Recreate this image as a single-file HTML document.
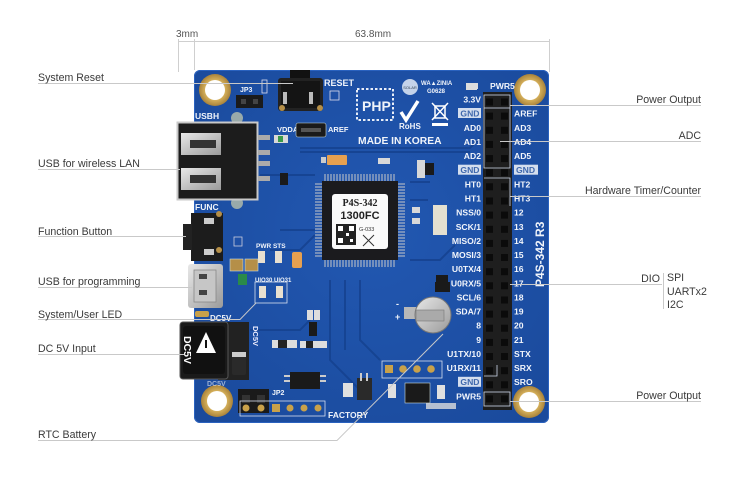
<!DOCTYPE html>
<html><head><meta charset="utf-8"><style>
html,body{margin:0;padding:0;background:#fff;}
svg{display:block;}
.lb{font-family:"Liberation Sans",Arial,sans-serif;font-size:10.6px;fill:#3a3a3a;}
.pn{font-family:"Liberation Sans",Arial,sans-serif;font-size:8.6px;font-weight:bold;fill:#f2f5fb;}
.sk{font-family:"Liberation Sans",Arial,sans-serif;font-weight:bold;fill:#f0f4fa;}
</style></head><body>
<svg width="750" height="496" viewBox="0 0 750 496" xmlns="http://www.w3.org/2000/svg">
<defs>
<radialGradient id="bg" cx="50%" cy="45%" r="70%"><stop offset="0" stop-color="#2258b2"/><stop offset="1" stop-color="#1a4a9c"/></radialGradient>
<radialGradient id="gold" cx="50%" cy="50%" r="50%"><stop offset="0.6" stop-color="#d9b45e"/><stop offset="1" stop-color="#a8823a"/></radialGradient>
<linearGradient id="sil" x1="0" y1="0" x2="1" y2="1"><stop offset="0" stop-color="#e8e8e8"/><stop offset="1" stop-color="#9a9a9a"/></linearGradient>
</defs>

<!-- dimension lines -->
<g stroke="#cfcfcf" stroke-width="1" fill="none">
<line x1="178" y1="41.5" x2="549" y2="41.5"/>
<line x1="178.5" y1="39" x2="178.5" y2="72"/>
<line x1="194.5" y1="39" x2="194.5" y2="70"/>
<line x1="549.5" y1="39" x2="549.5" y2="72"/>
</g>
<text class="lb" x="176" y="37" style="font-size:10px;fill:#555">3mm</text>
<text class="lb" x="355" y="37" style="font-size:10px;fill:#555">63.8mm</text>

<!-- board -->
<rect x="194" y="70" width="355" height="353" rx="6" fill="url(#bg)"/>
<rect x="194.5" y="70.5" width="354" height="352" rx="6" fill="none" stroke="#2a62bf" stroke-width="1"/>
<!-- traces -->
<g stroke="#15418e" stroke-width="2" fill="none" opacity="0.8">
<path d="M300 148 L470 148 L480 138"/>
<path d="M300 152 L470 152"/>
<path d="M260 175 L315 175"/>
<path d="M270 250 L300 250 L315 235"/>
<path d="M280 230 L315 230"/>
<path d="M330 280 L330 360 L360 390"/>
<path d="M345 280 L345 350"/>
<path d="M360 280 L360 340 L380 360"/>
<path d="M410 260 L440 260 L455 245"/>
<path d="M250 330 L300 330 L310 320"/>
<path d="M410 182 L430 182"/>
<path d="M410 200 L428 200"/>
</g>

<!-- mount holes -->
<g>
<circle cx="215" cy="90" r="16" fill="url(#gold)"/><circle cx="215" cy="90" r="10" fill="#fff"/>
<circle cx="530" cy="90" r="16" fill="url(#gold)"/><circle cx="530" cy="90" r="10" fill="#fff"/>
<circle cx="217" cy="401" r="16" fill="url(#gold)"/><circle cx="217" cy="401" r="10" fill="#fff"/>
<circle cx="529" cy="402" r="16" fill="url(#gold)"/><circle cx="529" cy="402" r="10" fill="#fff"/>
</g>

<!-- JP3 -->
<text class="sk" x="240" y="92" font-size="7">JP3</text>
<rect x="262" y="80" width="5" height="13" fill="none" stroke="#dde" stroke-width="0.8"/>
<rect x="236" y="95" width="27" height="13" fill="#1b1b1b"/>
<rect x="241" y="99" width="5" height="5" fill="#444"/><rect x="253" y="99" width="5" height="5" fill="#444"/>

<!-- reset button -->
<rect x="290" y="70" width="20" height="9" fill="#111"/>
<rect x="278" y="78" width="45" height="33" rx="3" fill="#222"/>
<rect x="281" y="81" width="39" height="27" fill="#141414"/>
<rect x="283" y="92" width="4" height="12" fill="#bbb"/><rect x="309" y="92" width="4" height="12" fill="#bbb"/>
<circle cx="282" cy="108" r="3" fill="#b58f48"/><circle cx="320" cy="108" r="3" fill="#b58f48"/>
<text class="sk" x="324" y="86" font-size="9">RESET</text>
<rect x="330" y="91" width="9" height="9" fill="none" stroke="#dde" stroke-width="0.8"/>

<!-- USBH -->
<text class="sk" x="195" y="119" font-size="8.5">USBH</text>
<circle cx="237" cy="118" r="6" fill="#9aa"/>
<circle cx="237" cy="203" r="6" fill="#9aa"/>
<rect x="177.5" y="122.5" width="80" height="77" fill="#1c1c1c" stroke="#c9c9c9" stroke-width="2"/>
<rect x="181" y="133" width="40" height="22" fill="url(#sil)"/>
<rect x="190" y="140" width="26" height="8" fill="#333"/>
<rect x="181" y="168" width="40" height="22" fill="url(#sil)"/>
<rect x="190" y="175" width="26" height="8" fill="#333"/>
<g fill="#aaa"><rect x="258" y="135" width="12" height="5"/><rect x="258" y="150" width="12" height="5"/><rect x="258" y="161" width="12" height="5"/><rect x="258" y="176" width="12" height="5"/></g>
<rect x="274" y="135" width="14" height="8" fill="#d8d8d8"/><rect x="278" y="136" width="5" height="6" fill="#3a9a4a"/>
<rect x="280" y="173" width="8" height="12" fill="#1a1a1a"/>

<!-- VDDA/AREF -->
<text class="sk" x="277" y="132" font-size="7.5">VDDA</text>
<rect x="296" y="123" width="30" height="14" rx="2" fill="#1a1a1a" stroke="#cdd" stroke-width="0.6"/>
<rect x="301" y="128" width="20" height="4" fill="#555"/>
<text class="sk" x="328" y="132" font-size="7.5">AREF</text>

<!-- PHP / logos -->
<rect x="357" y="89" width="36" height="31" fill="none" stroke="#e8eef8" stroke-width="2" stroke-dasharray="2.5 2"/>
<text class="sk" x="362" y="111" font-size="14">PHP</text>
<text class="sk" x="358" y="144" font-size="10.3">MADE IN KOREA</text>
<circle cx="410" cy="87" r="8" fill="#c4d3ea"/>
<text x="410" y="89" font-size="4" fill="#345" text-anchor="middle" font-family="Liberation Sans">SOLAR</text>
<text class="sk" x="421" y="85" font-size="6">WA▲ZINIA</text>
<text class="sk" x="427" y="93" font-size="6">G0628</text>
<path d="M401 112 L406 120 L418 101" stroke="#fff" stroke-width="3.5" fill="none"/>
<text class="sk" x="399" y="129" font-size="8">RoHS</text>
<g stroke="#fff" stroke-width="1.5" fill="none"><path d="M432 103 L448 120 M448 103 L432 120"/><rect x="435" y="106" width="10" height="12"/></g>
<rect x="432" y="123" width="16" height="3" fill="#fff"/>
<rect x="466" y="83" width="11" height="7" fill="#ddd"/>

<!-- capacitor -->
<rect x="327" y="155" width="20" height="10" rx="1" fill="#e6a050"/>
<rect x="321" y="157" width="5" height="6" fill="#ccc"/>

<!-- chip -->
<g stroke="#c8c8c8" stroke-width="1">
<path d="M325 174 v7 M328 174 v7 M331 174 v7 M334 174 v7 M337 174 v7 M340 174 v7 M343 174 v7 M346 174 v7 M349 174 v7 M352 174 v7 M355 174 v7 M358 174 v7 M361 174 v7 M364 174 v7 M367 174 v7 M370 174 v7 M373 174 v7 M376 174 v7 M379 174 v7 M382 174 v7 M385 174 v7 M388 174 v7 M391 174 v7 M394 174 v7"/>
<path d="M325 260 v7 M328 260 v7 M331 260 v7 M334 260 v7 M337 260 v7 M340 260 v7 M343 260 v7 M346 260 v7 M349 260 v7 M352 260 v7 M355 260 v7 M358 260 v7 M361 260 v7 M364 260 v7 M367 260 v7 M370 260 v7 M373 260 v7 M376 260 v7 M379 260 v7 M382 260 v7 M385 260 v7 M388 260 v7 M391 260 v7 M394 260 v7"/>
<path d="M315 184 h7 M315 187 h7 M315 190 h7 M315 193 h7 M315 196 h7 M315 199 h7 M315 202 h7 M315 205 h7 M315 208 h7 M315 211 h7 M315 214 h7 M315 217 h7 M315 220 h7 M315 223 h7 M315 226 h7 M315 229 h7 M315 232 h7 M315 235 h7 M315 238 h7 M315 241 h7 M315 244 h7 M315 247 h7 M315 250 h7 M315 253 h7 M315 256 h7"/>
<path d="M398 184 h7 M398 187 h7 M398 190 h7 M398 193 h7 M398 196 h7 M398 199 h7 M398 202 h7 M398 205 h7 M398 208 h7 M398 211 h7 M398 214 h7 M398 217 h7 M398 220 h7 M398 223 h7 M398 226 h7 M398 229 h7 M398 232 h7 M398 235 h7 M398 238 h7 M398 241 h7 M398 244 h7 M398 247 h7 M398 250 h7 M398 253 h7 M398 256 h7"/>
</g>
<rect x="322" y="181" width="76" height="79" fill="#1b1b1e"/>
<rect x="332" y="194" width="56" height="55" rx="3" fill="#fafafa"/>
<text x="360" y="206" font-size="10" font-weight="bold" fill="#222" text-anchor="middle" font-family="Liberation Serif,serif">P4S-342</text>
<text x="360" y="219" font-size="11" font-weight="bold" fill="#222" text-anchor="middle" font-family="Liberation Sans,sans-serif">1300FC</text>
<g fill="#222"><rect x="336" y="224" width="20" height="21"/></g>
<g fill="#fff"><rect x="338" y="226" width="5" height="5"/><rect x="349" y="226" width="5" height="5"/><rect x="338" y="238" width="5" height="5"/><rect x="346" y="233" width="3" height="3"/><rect x="350" y="239" width="3" height="3"/></g>
<text x="359" y="231" font-size="5.5" fill="#333" font-family="Liberation Sans">G-033</text>
<path d="M363 235 L374 246 M374 235 L363 246" stroke="#333" stroke-width="1"/>

<!-- misc small parts -->
<g fill="#d8d8d8"><rect x="378" y="158" width="12" height="6"/><rect x="417" y="160" width="8" height="18"/><rect x="433" y="205" width="14" height="30" fill="#e4e0d0"/><rect x="412" y="207" width="8" height="6"/><rect x="412" y="218" width="8" height="6"/></g>
<rect x="425" y="163" width="9" height="12" fill="#1a1a1a"/>
<rect x="436" y="275" width="12" height="10" fill="#1a1a1a"/>

<!-- FUNC -->
<text class="sk" x="195" y="210" font-size="8.5">FUNC</text>
<rect x="191" y="213" width="32" height="48" fill="#1c1c1c"/>
<rect x="183" y="224" width="9" height="26" fill="#222"/>
<rect x="204" y="218" width="10" height="6" fill="#ccc"/><rect x="204" y="249" width="10" height="6" fill="#ccc"/>
<circle cx="219" cy="214" r="3" fill="#b58f48"/><circle cx="219" cy="250" r="3" fill="#b58f48"/>
<rect x="234" y="237" width="8" height="9" fill="none" stroke="#ccd" stroke-width="0.8"/>

<!-- LEDs -->
<text class="sk" x="256" y="248" font-size="6.5">PWR STS</text>
<rect x="258" y="251" width="7" height="12" fill="#e8e0d0"/><rect x="275" y="251" width="7" height="12" fill="#e8e0d0"/>
<rect x="230" y="259" width="13" height="12" fill="#b58f48" stroke="#cdd" stroke-width="0.6"/>
<rect x="245" y="259" width="13" height="12" fill="#b58f48" stroke="#cdd" stroke-width="0.6"/>
<rect x="238" y="274" width="9" height="11" fill="#2a8a4a"/>
<rect x="255" y="282" width="32" height="21" fill="none" stroke="#d8e0ee" stroke-width="0.8"/>
<text class="sk" x="255" y="282" font-size="6">UIO30 UIO31</text>
<rect x="259" y="286" width="7" height="12" fill="#e8e0d0"/><rect x="276" y="286" width="7" height="12" fill="#e8e0d0"/>
<rect x="292" y="252" width="10" height="16" rx="2" fill="#e6a050"/>

<!-- micro USB -->
<rect x="188" y="264" width="35" height="44" rx="3" fill="url(#sil)"/>
<rect x="194" y="270" width="22" height="32" fill="#c6c6c6" stroke="#888" stroke-width="0.8"/>
<rect x="199" y="274" width="8" height="5" fill="#444"/><rect x="199" y="290" width="8" height="5" fill="#444"/>

<!-- DC jack -->
<text class="sk" x="210" y="321" font-size="8">DC5V</text>
<rect x="195" y="311" width="14" height="6" rx="2" fill="#c9a14a"/>
<rect x="218" y="322" width="31" height="58" fill="#222"/>
<rect x="180" y="322" width="48" height="57" rx="3" fill="#1a1a1a" stroke="#555" stroke-width="1"/>
<rect x="183" y="326" width="42" height="48" rx="3" fill="#111"/>
<text x="0" y="0" transform="translate(184,336) rotate(90)" font-size="10.5" font-weight="bold" fill="#fff" font-family="Liberation Sans">DC5V</text>
<path d="M206 332 L216 353 L196 353 Z" fill="#fff"/>
<rect x="205" y="340" width="2" height="8" fill="#111"/>
<text x="0" y="0" transform="translate(253,326) rotate(90)" font-size="7.5" font-weight="bold" fill="#eef" font-family="Liberation Sans">DC5V</text>
<text class="sk" x="207" y="386" font-size="7" opacity="0.6">DC5V</text>
<rect x="232" y="353" width="14" height="22" rx="2" fill="#2a2a2a"/><rect x="232" y="352" width="14" height="5" fill="#ccc"/>
<rect x="272" y="340" width="25" height="8" fill="#ddd"/><rect x="278" y="340" width="9" height="8" fill="#222"/>
<rect x="300" y="341" width="27" height="7" fill="#ddd"/><rect x="306" y="341" width="7" height="7" fill="#222"/>
<rect x="290" y="372" width="30" height="17" fill="#1a1a1a"/>
<g fill="#ccc"><rect x="284" y="375" width="6" height="2"/><rect x="284" y="380" width="6" height="2"/><rect x="320" y="375" width="6" height="2"/><rect x="320" y="380" width="6" height="2"/></g>
<g fill="#ddd"><rect x="307" y="310" width="6" height="10"/><rect x="314" y="310" width="6" height="10"/></g>
<rect x="309" y="322" width="8" height="14" fill="#1a1a1a"/>

<!-- JP2 / FACTORY -->
<rect x="238" y="389" width="31" height="24" fill="#1a1a1a"/>
<rect x="242" y="395" width="8" height="8" fill="#333"/><rect x="257" y="395" width="8" height="8" fill="#333"/>
<text class="sk" x="272" y="395" font-size="7">JP2</text>
<rect x="240" y="401" width="85" height="15" fill="none" stroke="#d6deee" stroke-width="0.8"/>
<g fill="#c9a14a"><circle cx="246" cy="408" r="3.5"/><circle cx="261" cy="408" r="3.5"/><rect x="272" y="404" width="8" height="8"/><circle cx="290" cy="408" r="3.5"/><circle cx="304" cy="408" r="3.5"/><circle cx="318" cy="408" r="3.5"/></g>
<text class="sk" x="328" y="418" font-size="8.5">FACTORY</text>
<rect x="343" y="383" width="10" height="14" fill="#e0e0e0"/>
<rect x="357" y="378" width="15" height="22" fill="#2a2a2a"/>
<g fill="#ccc"><rect x="360" y="373" width="2" height="8"/><rect x="366" y="373" width="2" height="8"/></g>
<rect x="388" y="384" width="8" height="14" fill="#e0e0e0"/>
<rect x="405" y="383" width="25" height="20" fill="#1a1a1a" stroke="#cdd" stroke-width="0.6"/>
<rect x="437" y="385" width="8" height="14" fill="#e0e0e0"/>
<rect x="426" y="403" width="30" height="6" fill="#ddd" opacity="0.8"/>

<!-- 4 pads -->
<rect x="382" y="361" width="60" height="17" fill="none" stroke="#d6deee" stroke-width="0.8"/>
<g fill="#c9a14a"><rect x="385" y="365" width="8" height="8"/><circle cx="403" cy="369" r="3.8"/><circle cx="417" cy="369" r="3.8"/><circle cx="431" cy="369" r="3.8"/></g>

<!-- battery -->
<rect x="404" y="307" width="16" height="12" fill="#b8b8b8"/>
<text class="sk" x="396" y="307" font-size="9">-</text><text class="sk" x="395" y="320" font-size="9">+</text>
<circle cx="433" cy="315" r="18" fill="url(#sil)" stroke="#777" stroke-width="1"/>
<rect x="416" y="310" width="28" height="11" fill="#aaa" stroke="#777" stroke-width="0.6"/>
<rect x="435" y="282" width="15" height="10" fill="#1a1a1a"/>

<!-- pin header -->
<rect x="483" y="92" width="29" height="318" fill="#1e1e1e"/>
<g fill="#0b0b0b">
<rect x="486" y="98.5" width="7" height="7"/><rect x="501" y="98.5" width="7" height="7"/>
<rect x="486" y="112.6" width="7" height="7"/><rect x="501" y="112.6" width="7" height="7"/>
<rect x="486" y="126.8" width="7" height="7"/><rect x="501" y="126.8" width="7" height="7"/>
<rect x="486" y="140.9" width="7" height="7"/><rect x="501" y="140.9" width="7" height="7"/>
<rect x="486" y="155.1" width="7" height="7"/><rect x="501" y="155.1" width="7" height="7"/>
<rect x="486" y="169.2" width="7" height="7"/><rect x="501" y="169.2" width="7" height="7"/>
<rect x="486" y="183.3" width="7" height="7"/><rect x="501" y="183.3" width="7" height="7"/>
<rect x="486" y="197.5" width="7" height="7"/><rect x="501" y="197.5" width="7" height="7"/>
<rect x="486" y="211.6" width="7" height="7"/><rect x="501" y="211.6" width="7" height="7"/>
<rect x="486" y="225.8" width="7" height="7"/><rect x="501" y="225.8" width="7" height="7"/>
<rect x="486" y="239.9" width="7" height="7"/><rect x="501" y="239.9" width="7" height="7"/>
<rect x="486" y="254" width="7" height="7"/><rect x="501" y="254" width="7" height="7"/>
<rect x="486" y="268.2" width="7" height="7"/><rect x="501" y="268.2" width="7" height="7"/>
<rect x="486" y="282.3" width="7" height="7"/><rect x="501" y="282.3" width="7" height="7"/>
<rect x="486" y="296.5" width="7" height="7"/><rect x="501" y="296.5" width="7" height="7"/>
<rect x="486" y="310.6" width="7" height="7"/><rect x="501" y="310.6" width="7" height="7"/>
<rect x="486" y="324.7" width="7" height="7"/><rect x="501" y="324.7" width="7" height="7"/>
<rect x="486" y="338.9" width="7" height="7"/><rect x="501" y="338.9" width="7" height="7"/>
<rect x="486" y="353" width="7" height="7"/><rect x="501" y="353" width="7" height="7"/>
<rect x="486" y="367.2" width="7" height="7"/><rect x="501" y="367.2" width="7" height="7"/>
<rect x="486" y="381.3" width="7" height="7"/><rect x="501" y="381.3" width="7" height="7"/>
<rect x="486" y="395.4" width="7" height="7"/><rect x="501" y="395.4" width="7" height="7"/>
</g>
<g stroke="#cfd9ea" stroke-width="0.8" fill="none">
<rect x="484" y="95" width="26" height="13"/>
<path d="M484 108 L484 168 L510 168 L510 108"/>
<path d="M484 178 L510 178 L510 206"/>
<path d="M497 365 L497 376 L484 376"/>
<rect x="484" y="392" width="26" height="14"/>
</g>
<text class="pn" x="490" y="89">PWR5</text>
<rect x="468" y="83" width="10" height="6" fill="#ddd"/>

<g class="pn" text-anchor="end">
<text x="481" y="102.5">3.3V</text>
<text x="481" y="130.8">AD0</text>
<text x="481" y="145">AD1</text>
<text x="481" y="159.1">AD2</text>
<text x="481" y="187.4">HT0</text>
<text x="481" y="201.5">HT1</text>
<text x="481" y="215.6">NSS/0</text>
<text x="481" y="229.8">SCK/1</text>
<text x="481" y="243.9">MISO/2</text>
<text x="481" y="258">MOSI/3</text>
<text x="481" y="272.2">U0TX/4</text>
<text x="481" y="286.3">U0RX/5</text>
<text x="481" y="300.5">SCL/6</text>
<text x="481" y="314.6">SDA/7</text>
<text x="481" y="328.7">8</text>
<text x="481" y="342.9">9</text>
<text x="481" y="357">U1TX/10</text>
<text x="481" y="371.2">U1RX/11</text>
<text x="481" y="399.4">PWR5</text>
</g>
<g fill="#d4deee">
<rect x="458" y="108" width="23" height="10"/>
<rect x="458" y="164.7" width="23" height="10"/>
<rect x="458" y="376.8" width="23" height="10"/>
<rect x="514" y="164.7" width="24" height="10"/>
</g>
<g class="pn" style="fill:#3f68ad">
<text x="479.5" y="116.6" text-anchor="end">GND</text>
<text x="479.5" y="173" text-anchor="end">GND</text>
<text x="479.5" y="385.2" text-anchor="end">GND</text>
<text x="516" y="173">GND</text>
</g>
<g class="pn">
<text x="514" y="116.6">AREF</text>
<text x="514" y="130.8">AD3</text>
<text x="514" y="145">AD4</text>
<text x="514" y="159.1">AD5</text>
<text x="514" y="187.4">HT2</text>
<text x="514" y="201.5">HT3</text>
<text x="514" y="215.6">12</text>
<text x="514" y="229.8">13</text>
<text x="514" y="243.9">14</text>
<text x="514" y="258">15</text>
<text x="514" y="272.2">16</text>
<text x="514" y="286.3">17</text>
<text x="514" y="300.5">18</text>
<text x="514" y="314.6">19</text>
<text x="514" y="328.7">20</text>
<text x="514" y="342.9">21</text>
<text x="514" y="357">STX</text>
<text x="514" y="371.2">SRX</text>
<text x="514" y="385.2">SRO</text>
</g>
<text x="0" y="0" transform="translate(544,287) rotate(-90)" font-size="12" font-weight="bold" fill="#f0f4fa" font-family="Liberation Sans">P4S-342 R3</text>

<!-- callout lines -->
<g stroke="#c9c9c9" stroke-width="1" fill="none">
<line x1="38" y1="83.5" x2="293" y2="83.5"/>
<line x1="38" y1="169.5" x2="180" y2="169.5"/>
<line x1="38" y1="236.5" x2="186" y2="236.5"/>
<line x1="38" y1="287.5" x2="192" y2="287.5"/>
<polyline points="38,319.5 240,319.5 256,303"/>
<line x1="38" y1="354.5" x2="184" y2="354.5"/>
<polyline points="38,440.5 337,440.5 443,334"/>
<line x1="510" y1="105.5" x2="701" y2="105.5"/>
<line x1="500" y1="141.5" x2="701" y2="141.5"/>
<line x1="510" y1="196.5" x2="701" y2="196.5"/>
<line x1="510" y1="284.5" x2="662" y2="284.5"/>
<line x1="663.5" y1="273" x2="663.5" y2="309"/>
<line x1="510" y1="401.5" x2="701" y2="401.5"/>
</g>

<!-- labels -->
<g class="lb">
<text x="38" y="81">System Reset</text>
<text x="38" y="167">USB for wireless LAN</text>
<text x="38" y="235">Function Button</text>
<text x="38" y="285">USB for programming</text>
<text x="38" y="318">System/User LED</text>
<text x="38" y="352">DC 5V Input</text>
<text x="38" y="438">RTC Battery</text>
</g>
<g class="lb" text-anchor="end">
<text x="701" y="103">Power Output</text>
<text x="701" y="139">ADC</text>
<text x="701" y="194">Hardware Timer/Counter</text>
<text x="660" y="282">DIO</text>
<text x="701" y="399">Power Output</text>
</g>
<g class="lb">
<text x="667" y="281">SPI</text>
<text x="667" y="295">UARTx2</text>
<text x="667" y="308">I2C</text>
</g>
</svg>
</body></html>
